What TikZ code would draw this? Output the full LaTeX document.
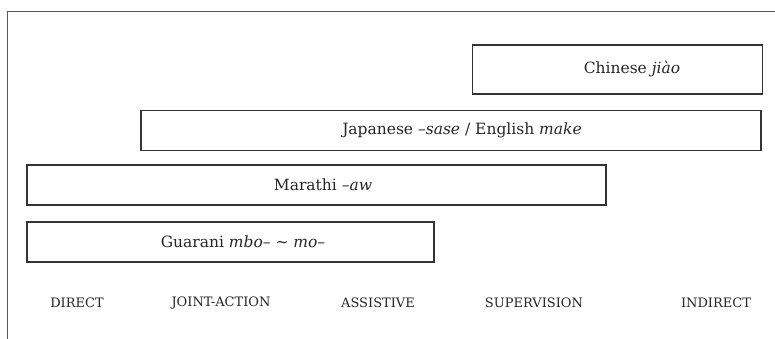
\documentclass[tikz,border=0pt]{standalone}
\usepackage{fontspec}
\setmainfont{DejaVu Serif}
\begin{document}
\begin{tikzpicture}[x=1pt,y=1pt,
  box/.style={draw=black!80, line width=1.1pt, inner sep=0pt},
  lab/.style={font=\fontsize{15.5}{18}\selectfont, text=black!85, inner sep=0pt, anchor=center},
  axis/.style={font=\fontsize{13}{15}\selectfont, text=black!85, inner sep=0pt, anchor=center},
  frame/.style={draw=black!65, line width=0.8pt}]
\useasboundingbox (0,0) rectangle (775,339);
% frame
\coordinate (ftr) at (775,327.5);
\coordinate (ftl) at (7.5,327.5);
\coordinate (fbl) at (7.5,0);
\draw[frame] (ftr) -- (ftl) -- (fbl);
% boxes
\node[box, minimum width=290pt, minimum height=49pt] (chinese) at (617.5,269.5) {};
\node[box, minimum width=620pt, minimum height=40pt] (japanese) at (451,208.5) {};
\node[box, minimum width=579pt, minimum height=40pt] (marathi) at (316.5,154) {};
\node[box, minimum width=407pt, minimum height=40pt] (guarani) at (230.5,97) {};
% labels
\node[lab] (chineseL) at (632,269.5) {Chinese \textit{jiào}};
\node[lab] (japaneseL) at (462,208.5) {Japanese \textit{--sase} / English \textit{make}};
\node[lab] (marathiL) at (323,154) {Marathi \textit{--aw}};
\node[lab] (guaraniL) at (243,97) {Guarani \textit{mbo-- \textasciitilde{} mo--}};
% axis labels
\node[axis] (direct) at (77,36) {DIRECT};
\node[axis] (joint) at (221,36) {JOINT-ACTION};
\node[axis] (assist) at (378,36) {ASSISTIVE};
\node[axis] (super) at (534,36) {SUPERVISION};
\node[axis] (indirect) at (716,36) {INDIRECT};
\end{tikzpicture}
\end{document}
